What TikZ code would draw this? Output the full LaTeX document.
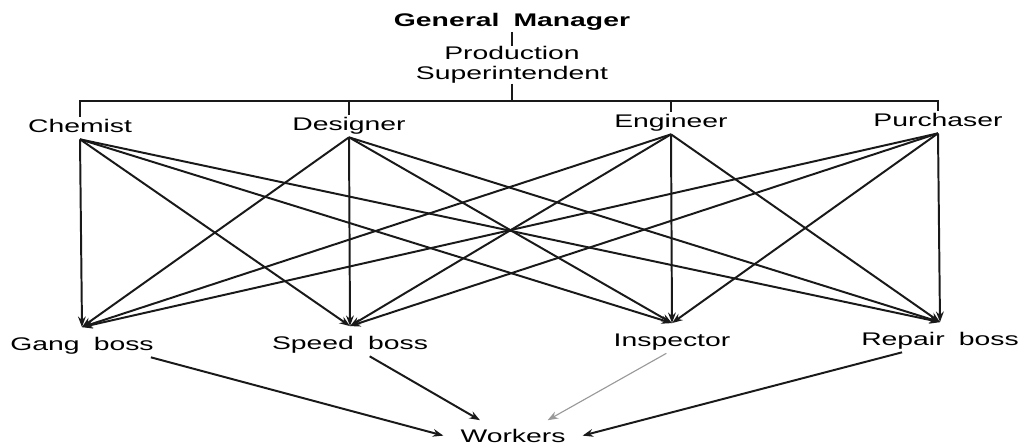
\documentclass[tikz,border=0pt]{standalone}
\usepackage{fontspec}
\setmainfont{Liberation Sans}[FakeStretch=1.55, WordSpace=1.8]
\usetikzlibrary{arrows.meta, positioning}
\tikzset{
  head_label/.style={font=\fontsize{13}{14}\selectfont\bfseries, inner sep=0.5pt, anchor=base},
  super_label/.style={font=\fontsize{13}{14}\selectfont, align=center, inner sep=0pt},
  staff_label/.style={font=\fontsize{13}{14}\selectfont, text height=9.5pt, text depth=2.5pt, inner sep=1.8pt, anchor=base},
  boss_label/.style={staff_label, text height=15pt},
  worker_label/.style={font=\fontsize{13}{14}\selectfont, text height=13pt, text depth=2.5pt, inner ysep=3pt, inner xsep=12pt, anchor=base},
  link/.style={-, line width=1.5pt, black!90},
  arrow/.style={-{Stealth[length=7.5pt,width=5.5pt]}, line width=1.4pt, black!90},
  faint_arrow/.style={arrow, line width=0.8pt, black!40}
}

\begin{document}
\begin{tikzpicture}

  \useasboundingbox (0,0) rectangle (25.6,11.175);

  % --- Column positions ---
  \def\xChem{2.0}
  \def\xDes{8.725}
  \def\xEng{16.775}
  \def\xPur{23.45}
  \def\yBar{8.65}

  % --- Top of the line ---
  \node[head_label] (gen_manager) at (12.8, 10.5) {General Manager};
  \node[super_label] (prod_super) at (12.8, 9.55) {Production\\Superintendent};
  \draw[link] (gen_manager.south) -- (prod_super.north);

  % --- Functional foremen ---
  \node[staff_label] (chemist)   at (\xChem, 7.85)  {Chemist};
  \node[staff_label] (designer)  at (\xDes, 7.9)    {Designer};
  \node[staff_label] (engineer)  at (\xEng, 7.975)  {Engineer};
  \node[staff_label] (purchaser) at (\xPur, 8.0)    {Purchaser};

  % --- Bar under the superintendent ---
  \coordinate (bar) at (12.8, \yBar);
  \draw[link] (prod_super.south) -- (bar);
  \draw[link] (chemist.north) -- (chemist.north |- bar) -- (purchaser.north |- bar) -- (purchaser.north);
  \foreach \n in {designer, engineer} {
    \draw[link] (\n.north) -- (\n.north |- bar);
  }

  % --- Shop bosses ---
  \node[boss_label] (gang_boss)   at (2.05, 2.4)   {Gang boss};
  \node[boss_label] (speed_boss)  at (8.75, 2.425) {Speed boss};
  \node[boss_label] (inspector)   at (16.8, 2.5)   {Inspector};
  \node[boss_label] (repair_boss) at (23.5, 2.525) {Repair boss};

  % --- Every foreman to every boss ---
  \foreach \a in {chemist, designer, engineer, purchaser} {
    \foreach \b in {gang_boss, speed_boss, inspector, repair_boss} {
      \draw[arrow] (\a.south) -- (\b.north);
    }
  }

  % --- Workers ---
  \node[worker_label] (workers) at (12.825, 0.1) {Workers};
  \draw[arrow] ([xshift=49pt]gang_boss.south) -- (workers.west);
  \draw[arrow] ([xshift=14pt]speed_boss.south) -- (workers.155);
  \draw[faint_arrow] ([xshift=-4pt]inspector.south) -- (workers.24);
  \draw[arrow] ([xshift=-27pt]repair_boss.south) -- (workers.east);

\end{tikzpicture}
\end{document}
